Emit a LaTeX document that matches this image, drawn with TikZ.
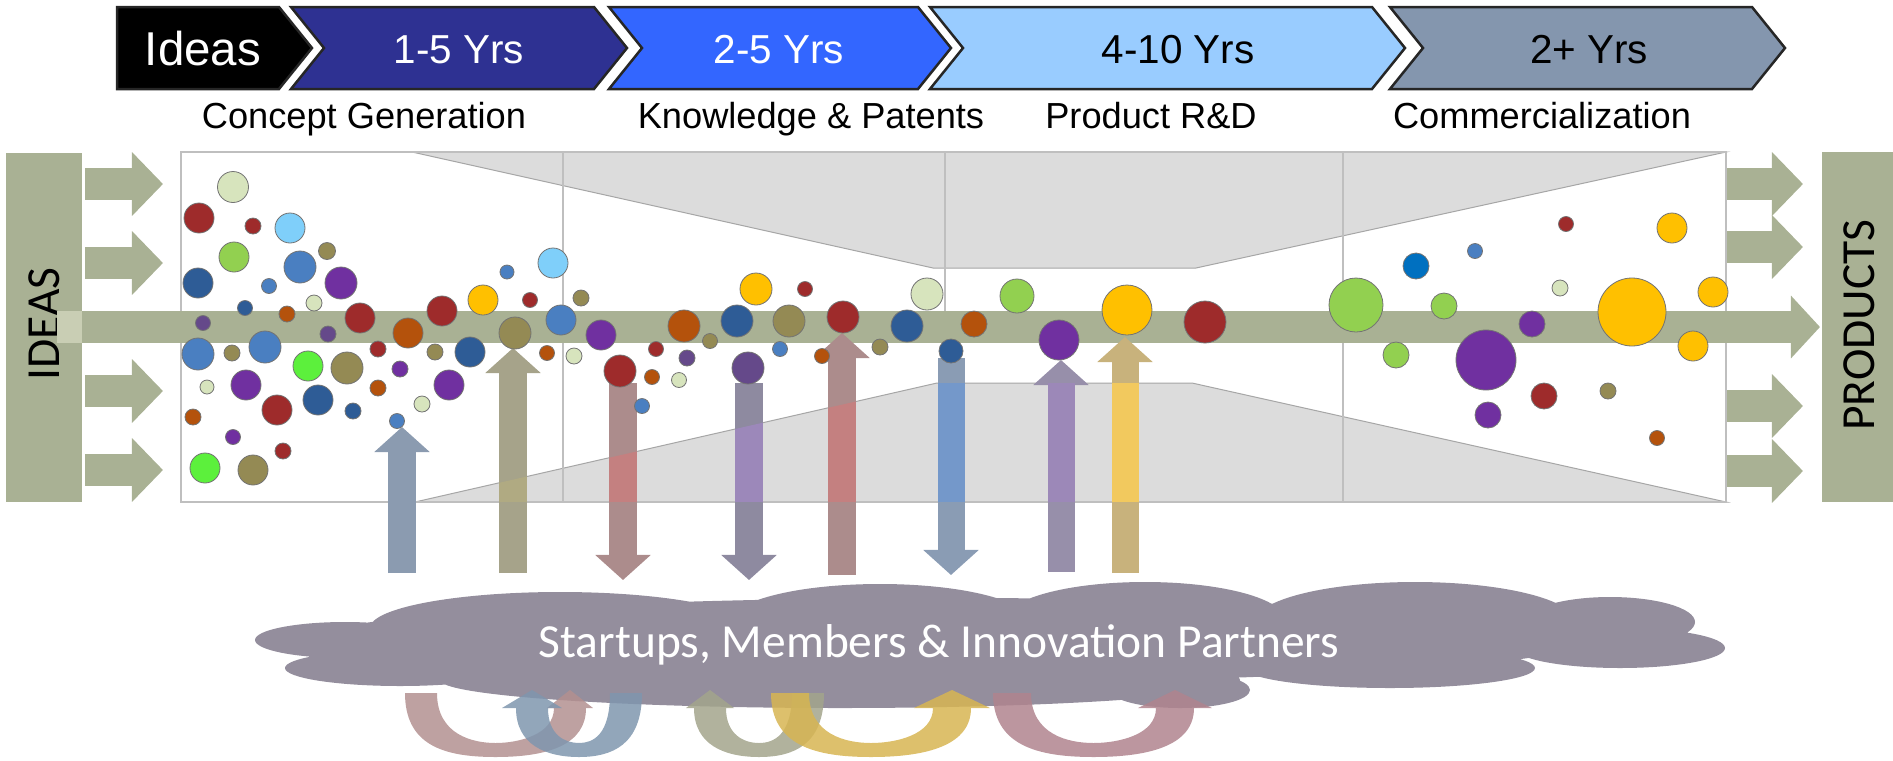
\documentclass[tikz,border=0pt]{standalone}
\usepackage{fontspec}
\setmainfont{Liberation Sans}
\newfontfamily\calibfont{Carlito}
\usetikzlibrary{arrows.meta}

\definecolor{sage}{HTML}{A9B194}
\definecolor{sagelight}{HTML}{C9CEB4}
\definecolor{boxline}{HTML}{BFBFBF}
\definecolor{funnel}{HTML}{DCDCDC}
\definecolor{funnelline}{HTML}{A6A6A6}
\definecolor{cloudc}{HTML}{948E9D}
\definecolor{yrsone}{HTML}{2E3192}
\definecolor{yrstwo}{HTML}{3366FF}
\definecolor{yrsthree}{HTML}{99CCFF}
\definecolor{yrsfour}{HTML}{8496AE}
% bubbles
\definecolor{dred}{HTML}{9E2B2B}
\definecolor{pale}{HTML}{D7E4BD}
\definecolor{lblue}{HTML}{7FCFFA}
\definecolor{ygreen}{HTML}{92D050}
\definecolor{bgreen}{HTML}{5CF03C}
\definecolor{dblue}{HTML}{2E5C96}
\definecolor{mblue}{HTML}{4A7FC1}
\definecolor{purp}{HTML}{7030A0}
\definecolor{mpurp}{HTML}{65498A}
\definecolor{olive}{HTML}{948A54}
\definecolor{orng}{HTML}{B4520C}
\definecolor{gold}{HTML}{FFC000}
\definecolor{vblue}{HTML}{0070C0}
% arrows
\definecolor{liftblue}{HTML}{8B9BB0}
\definecolor{liftolive}{HTML}{A6A38A}
\definecolor{liftrose}{HTML}{AC8C8C}
\definecolor{liftplum}{HTML}{8E8AA0}
\definecolor{liftsteel}{HTML}{8A9CB4}
\definecolor{liftlilac}{HTML}{978FAA}
\definecolor{lifttan}{HTML}{C8B27C}
\definecolor{vivrose}{HTML}{C48080}
\definecolor{vivplum}{HTML}{9C88BA}
\definecolor{vivsteel}{HTML}{7498CA}
\definecolor{vivlilac}{HTML}{9C88B8}
\definecolor{vivtan}{HTML}{F2C95E}
\definecolor{vivolive}{HTML}{B0AA82}
\definecolor{urose}{HTML}{B39090}
\definecolor{ublue}{HTML}{7F96AE}
\definecolor{uolive}{HTML}{A3A58C}
\definecolor{ugold}{HTML}{D7B552}
\definecolor{umaroon}{HTML}{B0848E}

\tikzset{
  chev/.style={draw=black!85, line width=0.25mm},
  yrs/.style={font=\fontsize{11.5}{14}\selectfont, anchor=base},
  stage/.style={font=\fontsize{10.3}{12}\selectfont, anchor=base},
  blob/.style={draw=black!55, line width=0.08mm},
  feed/.style={draw=sage, line width=3.2mm, -{Triangle[width=6.2mm,length=3.1mm]}},
  lift/.style={line width=2.7mm, -{Triangle[width=5.4mm,length=2.5mm]}},
  uband/.style={fill opacity=0.85},
  sidebox/.style={fill=sage, draw=none}
}

\begin{document}
\begin{tikzpicture}[x=0.01cm, y=-0.01cm]
    \useasboundingbox (0,0) rectangle (1893,760);

    % side boxes
    \fill[sidebox] (6,153) rectangle (82,502);
    \fill[sidebox] (1822,152) rectangle (1893,502);
    \node[rotate=90, font=\calibfont\fontsize{13.5}{16}\selectfont] (ideasbox) at (44,324) {IDEAS};
    \node[rotate=90, font=\calibfont\fontsize{13.5}{16}\selectfont] (productsbox) at (1859,325) {PRODUCTS};

    % feeding arrows
    \foreach \ay in {184,263,391,470}
        \draw[feed] (85,\ay) -- (163,\ay);
    \foreach \ay in {184,247,406,471}
        \draw[feed] (1726,\ay) -- (1803,\ay);

    % funnel box
    \fill[white] (181,152) rectangle (1726,502);
    \draw[funnelline, fill=funnel, line width=0.1mm] (412,152) -- (933,268) -- (1196,268) -- (1726,152) -- cycle;
    \draw[funnelline, fill=funnel, line width=0.1mm] (415,502) -- (937,383) -- (1192,383) -- (1726,502) -- cycle;
    \foreach \dx in {563,945,1343}
        \draw[boxline, line width=0.15mm] (\dx,152) -- (\dx,502);
    \draw[boxline, line width=0.25mm] (181,152) rectangle (1726,502);

    % main stream
    \fill[sagelight] (57,311) rectangle (82,343);
    \draw[sage, line width=3.2mm, -{Triangle[width=6.1mm,length=2.9mm]}] (82,327) -- (1820,327);

    % arrows to and from the partners
    \foreach \ax/\from/\to/\col in {402/573/427/liftblue, 513/573/348/liftolive,
        623/383/580/liftrose, 749/383/580/liftplum, 842/575/333/liftrose,
        951/358/575/liftsteel, 1061/572/360/liftlilac, 1125/573/337/lifttan}
        \draw[lift, draw=\col] (\ax,\from) -- (\ax,\to);
    \begin{scope}
        \clip (415,502) -- (937,383) -- (1192,383) -- (1726,502) -- cycle;
        \foreach \ax/\col in {513/vivolive, 623/vivrose, 749/vivplum, 842/vivrose,
            951/vivsteel, 1061/vivlilac, 1125/vivtan}
            \draw[line width=2.7mm, draw=\col] (\ax,380) -- (\ax,502);
    \end{scope}

    % ideas bubbles
    \foreach \cx/\cy/\cr/\cc in {
        233/187/15.5/pale, 199/218/15/dred, 253/226/8/dred, 290/228/15/lblue,
        234/257/15/ygreen, 327/251/8.5/olive, 198/283/15/dblue, 300/267/16/mblue,
        341/283/16/purp, 269/286/7.5/mblue, 245/308/7.5/dblue, 314/303/8/pale,
        287/314/8/orng, 360/318/15/dred, 203/323/7.5/mpurp, 328/334/8/mpurp,
        408/333/15/orng, 442/311/15/dred, 483/300/15/gold, 507/272/7/mblue,
        553/263/15/lblue, 530/300/7.5/dred, 581/298/8/olive, 561/320/15/mblue,
        515/333/16/olive, 198/354/16/mblue, 232/353/8/olive, 265/347/16/mblue,
        378/349/8/dred, 435/352/8/olive, 470/352/15/dblue, 547/353/7.5/orng,
        574/356/8/pale, 601/335/15/purp, 308/366/15/bgreen, 347/368/16/olive,
        400/369/8/purp, 207/387/7/pale, 246/385/15/purp, 449/385/15/purp,
        318/400/15/dblue, 378/388/8/orng, 277/410/15/dred, 353/411/8/dblue,
        422/404/8/pale, 193/417/8/orng, 397/421/7.5/mblue, 233/437/7.5/purp,
        283/451/8/dred, 205/468/15/bgreen, 253/470/15/olive,
        620/371/16/dred, 656/349/7.5/dred, 652/377/7.5/orng, 642/406/7.5/mblue,
        679/380/7.5/pale, 687/358/8/mpurp, 684/326/16/orng, 710/341/7.5/olive,
        737/321/16/dblue, 756/289/16/gold, 805/289/7.5/dred, 789/321/16/olive,
        780/349/7.5/mblue, 748/368/16/mpurp, 822/356/7.5/orng, 843/317/16/dred,
        880/347/8/olive, 907/326/16/dblue, 927/294/16/pale, 974/324/13/orng,
        951/351/12/dblue, 1017/296/17/ygreen, 1059/340/20/purp, 1127/310/25/gold,
        1205/322/21/dred,
        1356/305/27/ygreen, 1444/306/13/ygreen, 1396/355/13/ygreen, 1416/266/13/vblue,
        1475/251/7.5/mblue, 1566/224/7.5/dred, 1672/228/15/gold, 1560/288/8/pale,
        1532/324/13/purp, 1486/360/30/purp, 1632/312/34/gold, 1713/292/15/gold,
        1693/346/15/gold, 1608/391/8/olive, 1544/396/13/dred, 1488/415/13/purp,
        1657/438/7.5/orng}
        \draw[blob, fill=\cc] (\cx,\cy) circle (\cr);

    % time line
    \draw[chev, fill=black] (117,7) -- (279,7) -- ++(33,41) -- ++(-33,41) -- (117,89) -- cycle;
    \foreach \xs/\xe/\col in {291/594/yrsone, 609/918/yrstwo, 930/1372/yrsthree, 1390/1752/yrsfour}
        \draw[chev, fill=\col] (\xs,7) -- (\xe,7) -- ++(33,41) -- ++(-33,41) -- (\xs,89) -- ++(33,-41) -- cycle;
    \node[yrs, text=white, font=\fontsize{13.5}{16}\selectfont] (ideas) at (203,65) {Ideas};
    \node[yrs, text=white] (oneyrs) at (459,63) {1-5 Yrs};
    \node[yrs, text=white] (twoyrs) at (779,63) {2-5 Yrs};
    \node[yrs] (fouryrs) at (1178,63) {4-10 Yrs};
    \node[yrs] (plusyrs) at (1589,63) {2+ Yrs};

    \node[stage] (concept) at (364,128) {Concept Generation};
    \node[stage] (knowledge) at (811,128) {Knowledge \& Patents};
    \node[stage] (product) at (1151,128) {Product R\&D};
    \node[stage] (commerc) at (1542,128) {Commercialization};

    % partners cloud
    \fill[cloudc] \foreach \ex/\ey/\erx/\ery in {950/640/640/42, 560/628/190/36, 880/622/150/38,
        1145/620/140/38, 1415/622/160/40, 1610/622/85/25, 1620/648/105/20, 345/640/90/18,
        400/668/115/18, 840/680/400/28, 1390/668/145/20, 1180/690/70/18}
        {(\ex,\ey) ellipse [x radius=\erx, y radius=\ery]};
    \node[text=white, anchor=base, font=\calibfont\fontsize{13.5}{16}\selectfont] (partners) at (939,657) {Startups, Members \& Innovation Partners};

    % exchange between partners
    \foreach \xs/\xe/\h/\hw/\col in {421/570/16/23/urose, 626/532/16/30/ublue, 808/710/16/24/uolive,
        790/952/19/38/ugold, 1012/1175/19/37/umaroon} {
        \pgfmathsetmacro{\usg}{sign(\xe-\xs)}
        \pgfmathsetmacro{\umid}{(\xs+\xe)/2}
        \pgfmathsetmacro{\uspan}{\xe-\xs}
        \pgfmathsetmacro{\xoa}{\xs-\h*\usg}
        \pgfmathsetmacro{\xia}{\xs+\h*\usg}
        \pgfmathsetmacro{\xob}{\xe+\h*\usg}
        \pgfmathsetmacro{\xib}{\xe-\h*\usg}
        \pgfmathsetmacro{\hla}{\xe+\hw*\usg}
        \pgfmathsetmacro{\hlb}{\xe-\hw*\usg}
        \pgfmathsetmacro{\coa}{\umid-0.35*\uspan}
        \pgfmathsetmacro{\cob}{\umid+0.35*\uspan}
        \pgfmathsetmacro{\cia}{\umid+0.15*\uspan}
        \pgfmathsetmacro{\cib}{\umid-0.15*\uspan}
        \fill[uband, \col] (\xoa,693) .. controls (\xoa,745) and (\coa,757) .. (\umid,757)
            .. controls (\cob,757) and (\xob,745) .. (\xob,708) -- (\hla,708) -- (\xe,690)
            -- (\hlb,708) -- (\xib,708) .. controls (\xib,735) and (\cia,743) .. (\umid,743)
            .. controls (\cib,743) and (\xia,735) .. (\xia,693) -- cycle;
    }
\end{tikzpicture}
\end{document}
